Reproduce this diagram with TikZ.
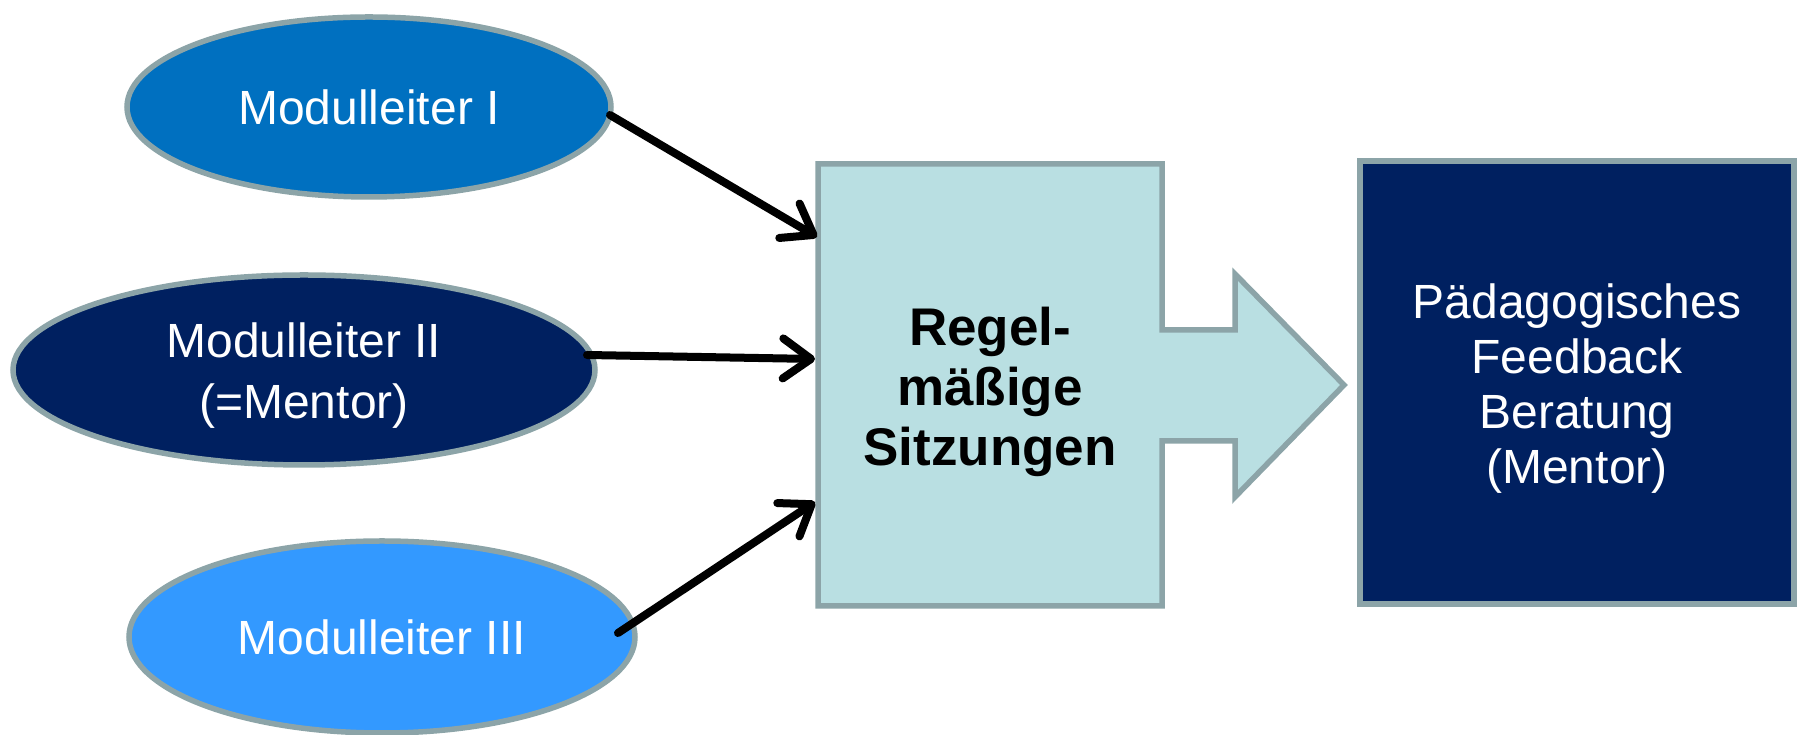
\documentclass[tikz,border=0pt]{standalone}
\usepackage{fontspec}
\setmainfont{Liberation Sans}
\usetikzlibrary{shapes.geometric,arrows.meta,backgrounds,calc}
\definecolor{bord}{HTML}{8CA4A8}
\definecolor{cone}{HTML}{0070C0}
\definecolor{ctwo}{HTML}{002060}
\definecolor{cthree}{HTML}{3399FF}
\definecolor{cmid}{HTML}{B9DFE2}
\tikzset{
  ell/.style={ellipse, draw=bord, line width=5.5pt, inner sep=0pt, outer sep=0pt, text=white, align=center, font=\fontsize{48}{50}\selectfont},
  lbl/.style={inner sep=0pt, align=center},
  conn/.style={line width=8pt, line cap=round, line join=round, -{Straight Barb[length=28pt 0,width=40pt 0,round]}},
  shapeline/.style={draw=bord, line width=5.5pt, line join=miter},
}
\begin{document}
\begin{tikzpicture}[x=1pt,y=1pt]
\useasboundingbox (0,0) rectangle (1801,735);
\node[ell, fill=cone, minimum width=484pt, minimum height=180pt] (e1) at (369,628) {Modulleiter I};
\node[ell, fill=ctwo, minimum width=582pt, minimum height=190pt] (e2) at (304,365) {};
\node[lbl, text=white, font=\fontsize{48}{61}\selectfont] (e2t) at ($(e2.center)+(0,-6)$) {Modulleiter II\\(=Mentor)};
\node[ell, fill=cthree, minimum width=506pt, minimum height=192pt] (e3) at (382,98) {Modulleiter III};
\node[inner sep=0pt, outer sep=0pt, minimum width=344pt, minimum height=442pt] (box) at (990,350) {};
\node[lbl, font=\bfseries\fontsize{53}{60}\selectfont] (boxt) at ($(box.center)+(0,-7)$) {Regel-\\mäßige\\Sitzungen};
\begin{scope}[on background layer]
\path[shapeline, fill=cmid] (box.south west) -- (box.north west) -- (box.north east)
  -- ($(box.east)+(0,55)$) -- ($(box.east)+(73,55)$) -- ($(box.east)+(73,111)$)
  -- ($(box.east)+(182,0)$) -- ($(box.east)+(73,-112)$) -- ($(box.east)+(73,-56)$)
  -- ($(box.east)+(0,-56)$) -- (box.south east) -- cycle;
\end{scope}
\node[shapeline, fill=ctwo, inner sep=0pt, minimum width=434pt, minimum height=443pt] (fb) at (1577,352.5) {};
\node[lbl, text=white, font=\fontsize{48}{55}\selectfont] (fbt) at ($(fb.center)+(0,-6.5)$) {Pädagogisches\\Feedback\\Beratung\\(Mentor)};
\coordinate (in1) at ($(box.west)+(-1,148)$);
\coordinate (in2) at ($(box.west)+(-3,26)$);
\coordinate (in3) at ($(box.west)+(-3,-117)$);
\draw[conn] ($(e1.east)+(-1,-8)$) -- (in1);
\draw[conn] ($(e2.east)+(-8,15)$) -- (in2);
\draw[conn] ($(e3.east)+(-17,4)$) -- (in3);
\end{tikzpicture}
\end{document}
